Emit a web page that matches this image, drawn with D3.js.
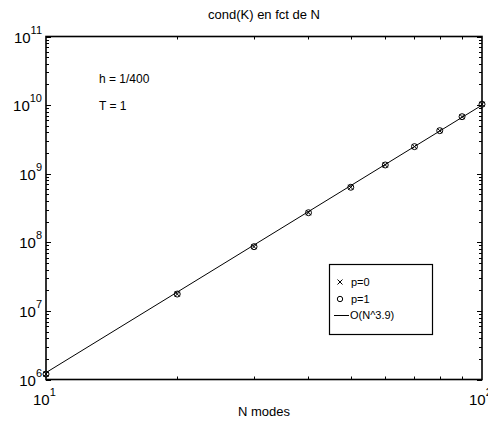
<!DOCTYPE html>
<html><head><meta charset="utf-8">
<script src="https://cdn.jsdelivr.net/npm/d3@7"></script>
<style>body{margin:0;background:#fff}svg{display:block}text{font-family:"Liberation Sans",Arial,Helvetica,sans-serif;fill:#000}</style>
</head><body><svg id="c" width="488" height="427"></svg>
<script>
const nModes = [10,20,30,40,50,60,70,80,90,100];
const condP0 = [1.2e6,1.76e7,8.63e7,2.70e8,6.34e8,1.34e9,2.48e9,4.24e9,6.78e9,1.03e10];
const condP1 = [1.2e6,1.76e7,8.63e7,2.70e8,6.34e8,1.34e9,2.48e9,4.24e9,6.78e9,1.03e10];
const fitN = [10,100];
const fitVals = [1.26e6,1.0e10];
const xDecades = [1,2];
const yDecades = [6,7,8,9,10,11];
const legendLabels = ["p=0","p=1","O(N^3.9)"];
const annotations = ["h = 1/400","T = 1"];

const svg = d3.select("#c");
const L=46,R=482,T=36.5,B=379.5;
const x = d3.scaleLog().domain([10,100]).range([L,R]);
const y = d3.scaleLog().domain([1e6,1e11]).range([B,T]);

// minor ticks
const xMinor=[], yMinor=[];
for(let m=2;m<=9;m++) xMinor.push(m*10);
for(let e=6;e<11;e++) for(let m=2;m<=9;m++) yMinor.push(m*Math.pow(10,e));
const g=svg.append("g").attr("stroke","#000").attr("stroke-width",1);
xMinor.forEach(v=>{const px=Math.round(x(v))+0.5;
  g.append("line").attr("x1",px).attr("x2",px).attr("y1",B).attr("y2",B-3);
  g.append("line").attr("x1",px).attr("x2",px).attr("y1",T).attr("y2",T+3);});
yMinor.forEach(v=>{const py=Math.round(y(v))+0.5;
  g.append("line").attr("x1",L).attr("x2",L+3).attr("y1",py).attr("y2",py);
  g.append("line").attr("x1",R).attr("x2",R-3).attr("y1",py).attr("y2",py);});
yDecades.forEach(e=>{const py=Math.round(y(Math.pow(10,e)))+0.5;
  g.append("line").attr("x1",L).attr("x2",L+5).attr("y1",py).attr("y2",py);
  g.append("line").attr("x1",R).attr("x2",R-5).attr("y1",py).attr("y2",py);});

// frame
svg.append("rect").attr("x",L).attr("y",T).attr("width",R-L).attr("height",B-T)
  .attr("fill","none").attr("stroke","#000").attr("stroke-width",1.6);

// tick labels
yDecades.forEach(e=>{const py=y(Math.pow(10,e));
  const t=svg.append("text").attr("x",L-4).attr("y",py+6).attr("text-anchor","end").attr("font-size",15);
  t.append("tspan").text("10");
  t.append("tspan").attr("dy",-9).attr("font-size",11).text(e);
});
// fix: superscript end alignment -> place "10" then sup; shift so sup ends at L-4
svg.selectAll("text").filter(function(){return this.getAttribute("text-anchor")==="end";}).each(function(){
  const bb=this.getBBox(); d3.select(this).attr("text-anchor","start").attr("x",L-4-bb.width);
});
xDecades.forEach(e=>{const px=x(Math.pow(10,e));
  const t=svg.append("text").attr("x",px-13).attr("y",405).attr("font-size",15);
  t.append("tspan").text("10");
  t.append("tspan").attr("dy",-9).attr("font-size",11).text(e);
});

// fit line
const line=d3.line().x((d,i)=>x(fitN[i])).y(d=>y(d));
svg.append("path").attr("d",line(fitVals)).attr("fill","none").attr("stroke","#000").attr("stroke-width",1);

// markers
const cross=d3.symbol().type(d3.symbolCross);
nModes.forEach((n,i)=>{
  const px=x(n),py0=y(condP0[i]),py1=y(condP1[i]);
  svg.append("path").attr("d",`M${px-2.5},${py0-2.5}L${px+2.5},${py0+2.5}M${px-2.5},${py0+2.5}L${px+2.5},${py0-2.5}`)
    .attr("stroke","#000").attr("stroke-width",1).attr("fill","none");
  svg.append("circle").attr("cx",px).attr("cy",py1).attr("r",3).attr("fill","none").attr("stroke","#000").attr("stroke-width",1);
});

// title & labels
svg.append("text").attr("x",264).attr("y",19).attr("text-anchor","middle").attr("font-size",13).text("cond(K) en fct de N");
svg.append("text").attr("x",264).attr("y",416).attr("text-anchor","middle").attr("font-size",13).text("N modes");
svg.append("text").attr("x",99).attr("y",83).attr("font-size",12).text(annotations[0]);
svg.append("text").attr("x",99).attr("y",110).attr("font-size",12).text(annotations[1]);

// legend
const lg=svg.append("g");
lg.append("rect").attr("x",329.5).attr("y",264.5).attr("width",103).attr("height",70).attr("fill","#fff").attr("stroke","#000").attr("stroke-width",1.2);
const ly=[282,299,315];
lg.append("path").attr("d",`M337.5,${ly[0]-2.5}L342.5,${ly[0]+2.5}M337.5,${ly[0]+2.5}L342.5,${ly[0]-2.5}`).attr("stroke","#000").attr("fill","none");
lg.append("circle").attr("cx",340).attr("cy",ly[1]).attr("r",2.7).attr("fill","none").attr("stroke","#000");
lg.append("line").attr("x1",334).attr("x2",349).attr("y1",ly[2]+0.5).attr("y2",ly[2]+0.5).attr("stroke","#000");
legendLabels.forEach((s,i)=>lg.append("text").attr("x",i==2?350:351).attr("y",ly[i]+4).attr("font-size",11).text(s));
</script></body></html>
